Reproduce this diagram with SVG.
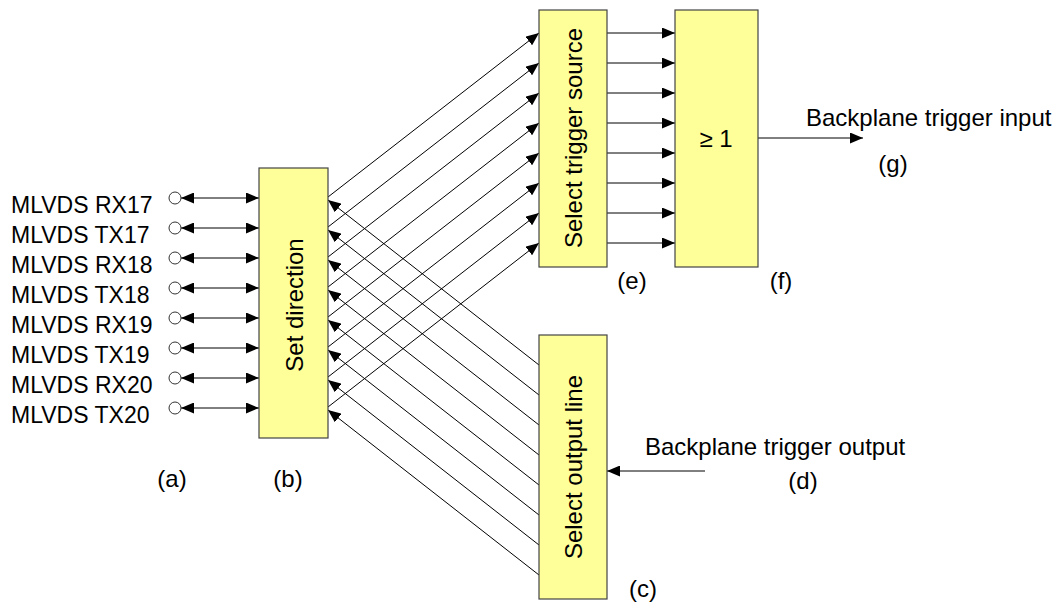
<svg xmlns="http://www.w3.org/2000/svg" width="1056" height="604" viewBox="0 0 1056 604">
<defs>
<style>
text{font-family:"Liberation Sans",Arial,sans-serif;fill:#000;font-size:24px}
.lab{font-size:23px}
.box{fill:#ffff99;stroke:#444;stroke-width:1.2}
.c{stroke:#000;stroke-width:1;fill:none}
.a{marker-end:url(#ah)}
.d{marker-end:url(#ah);marker-start:url(#ah)}
.pin{fill:#fff;stroke:#333;stroke-width:1}
.mid{text-anchor:middle}
</style>
<marker id="ah" viewBox="0 0 13 11" refX="13" refY="5.5" markerWidth="13" markerHeight="11" markerUnits="userSpaceOnUse" orient="auto-start-reverse">
<path d="M0,0 L13,5.5 L0,11 z" fill="#000"/>
</marker>
</defs>
<rect width="1056" height="604" fill="#fff"/>

<g id="connectors">
<path class="c d" d="M181,198 H259"/>
<path class="c d" d="M181,228 H259"/>
<path class="c d" d="M181,258 H259"/>
<path class="c d" d="M181,288 H259"/>
<path class="c d" d="M181,318 H259"/>
<path class="c d" d="M181,348 H259"/>
<path class="c d" d="M181,378 H259"/>
<path class="c d" d="M181,408 H259"/>
<path class="c a" d="M328,197 L539,33"/>
<path class="c a" d="M328,227 L539,63"/>
<path class="c a" d="M328,257 L539,93"/>
<path class="c a" d="M328,287 L539,123"/>
<path class="c a" d="M328,317 L539,153"/>
<path class="c a" d="M328,347 L539,183"/>
<path class="c a" d="M328,377 L539,213"/>
<path class="c a" d="M328,407 L539,243"/>
<path class="c a" d="M539,365 L328,200"/>
<path class="c a" d="M539,395 L328,230"/>
<path class="c a" d="M539,425 L328,260"/>
<path class="c a" d="M539,455 L328,290"/>
<path class="c a" d="M539,485 L328,320"/>
<path class="c a" d="M539,515 L328,350"/>
<path class="c a" d="M539,545 L328,380"/>
<path class="c a" d="M539,575 L328,410"/>
<path class="c a" d="M607,33 H675"/>
<path class="c a" d="M607,63 H675"/>
<path class="c a" d="M607,93 H675"/>
<path class="c a" d="M607,123 H675"/>
<path class="c a" d="M607,153 H675"/>
<path class="c a" d="M607,183 H675"/>
<path class="c a" d="M607,213 H675"/>
<path class="c a" d="M607,243 H675"/>
<path class="c a" d="M758,138 H863"/>
<path class="c a" d="M705,471 H607"/>
</g>

<g id="pins">
<circle class="pin" cx="175" cy="198" r="6"/>
<circle class="pin" cx="175" cy="228" r="6"/>
<circle class="pin" cx="175" cy="258" r="6"/>
<circle class="pin" cx="175" cy="288" r="6"/>
<circle class="pin" cx="175" cy="318" r="6"/>
<circle class="pin" cx="175" cy="348" r="6"/>
<circle class="pin" cx="175" cy="378" r="6"/>
<circle class="pin" cx="175" cy="408" r="6"/>
<text class="lab" x="11" y="213">MLVDS RX17</text>
<text class="lab" x="11" y="243">MLVDS TX17</text>
<text class="lab" x="11" y="273">MLVDS RX18</text>
<text class="lab" x="11" y="303">MLVDS TX18</text>
<text class="lab" x="11" y="333">MLVDS RX19</text>
<text class="lab" x="11" y="363">MLVDS TX19</text>
<text class="lab" x="11" y="393">MLVDS RX20</text>
<text class="lab" x="11" y="423">MLVDS TX20</text>
<text class="mid" x="172" y="487">(a)</text>
</g>

<g id="set-direction">
<rect class="box" x="259" y="168" width="69" height="270"/>
<text class="mid" x="294" y="305" dominant-baseline="central" transform="rotate(-90 294 305)">Set direction</text>
<text class="mid" x="288" y="487">(b)</text>
</g>

<g id="select-trigger-source">
<rect class="box" x="539" y="10" width="68" height="257"/>
<text class="mid" x="573" y="138" dominant-baseline="central" transform="rotate(-90 573 138)">Select trigger source</text>
<text class="mid" x="632" y="289">(e)</text>
</g>

<g id="or-gate">
<rect class="box" x="675" y="10" width="83" height="257"/>
<text class="mid" x="716" y="138" dominant-baseline="central">≥ 1</text>
<text class="mid" x="781" y="289">(f)</text>
</g>

<g id="select-output-line">
<rect class="box" x="539" y="335" width="68" height="264"/>
<text class="mid" x="573" y="467" dominant-baseline="central" transform="rotate(-90 573 467)">Select output line</text>
<text class="mid" x="643" y="597">(c)</text>
</g>

<g id="backplane-trigger-input">
<text x="806" y="126">Backplane trigger input</text>
<text class="mid" x="893" y="172">(g)</text>
</g>

<g id="backplane-trigger-output">
<text x="645" y="455">Backplane trigger output</text>
<text class="mid" x="803" y="489">(d)</text>
</g>
</svg>
